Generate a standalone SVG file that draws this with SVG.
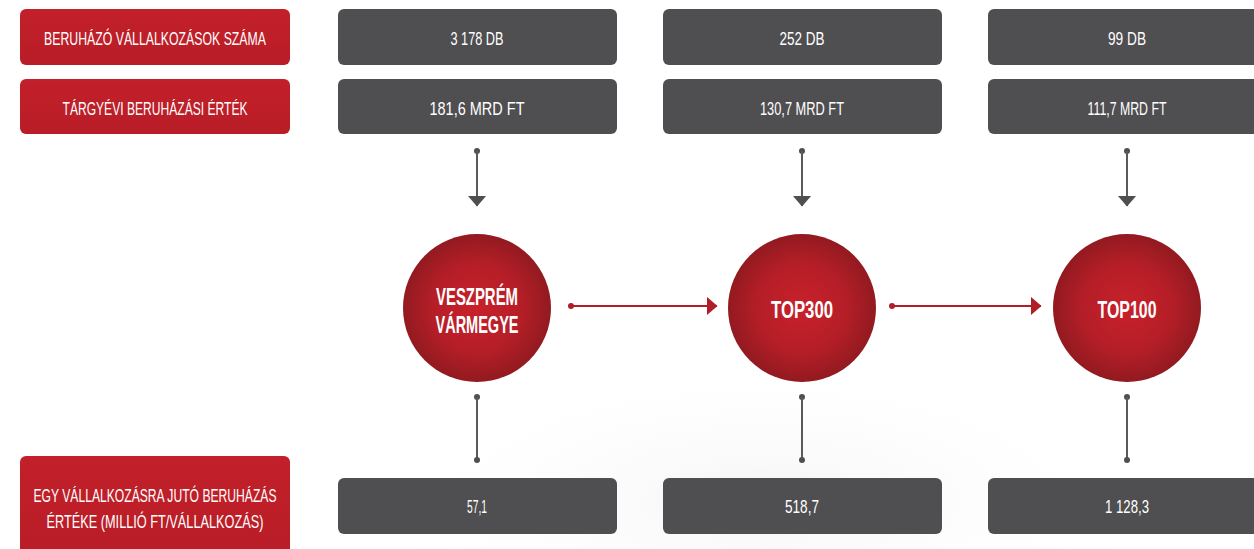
<svg xmlns="http://www.w3.org/2000/svg" width="1254" height="549" viewBox="0 0 1254 549">
<defs>
<linearGradient id="redBox" x1="0" y1="0" x2="0" y2="1">
<stop offset="0" stop-color="#c2202a"/>
<stop offset="1" stop-color="#b91d27"/>
</linearGradient>
<radialGradient id="redCircle" cx="0.5" cy="0.5" r="0.5">
<stop offset="0" stop-color="#c8212b"/>
<stop offset="0.6" stop-color="#b51e27"/>
<stop offset="1" stop-color="#921a20"/>
</radialGradient>
<radialGradient id="bgBlob" cx="0.5" cy="0.5" r="0.5">
<stop offset="0" stop-color="#f2f2f2" stop-opacity="0.8"/>
<stop offset="1" stop-color="#ffffff" stop-opacity="0"/>
</radialGradient>
<marker id="arrRed" viewBox="0 0 11 19" refX="10.5" refY="9.5" markerWidth="11" markerHeight="19" markerUnits="userSpaceOnUse" orient="auto">
<path d="M0,0 L11,9.5 L0,19 Z" fill="#b01e28"/>
</marker>
<marker id="arrDown" viewBox="0 0 19 11" refX="9.5" refY="10.5" markerWidth="19" markerHeight="11" markerUnits="userSpaceOnUse" orient="0">
<path d="M0,0 L19,0 L9.5,11 Z" fill="#4f4e50"/>
</marker>
</defs>
<style>
.rb{fill:url(#redBox)}
.db{fill:#4f4e50}
.circ{fill:url(#redCircle)}
.t{font-family:"Liberation Sans",Arial,sans-serif;font-size:19px;fill:#ffffff;text-anchor:middle}
.tc{font-family:"Liberation Sans",Arial,sans-serif;font-size:24px;font-weight:bold;fill:#ffffff;text-anchor:middle}
.cg{stroke:#5a5a5c;stroke-width:2;fill:none}
.cr{stroke:#b01e28;stroke-width:2;fill:none}
.dg{fill:#4f4e50}
.dr{fill:#b01e28}
</style>
<rect width="1254" height="549" fill="#ffffff"/>
<ellipse cx="760" cy="500" rx="380" ry="140" fill="url(#bgBlob)"/>

<g id="label-count">
<rect class="rb" x="20" y="9" width="270" height="56" rx="6"/>
<text class="t" x="155" y="45" textLength="222" lengthAdjust="spacingAndGlyphs">BERUHÁZÓ VÁLLALKOZÁSOK SZÁMA</text>
</g>
<g id="label-value">
<rect class="rb" x="20" y="79" width="270" height="55" rx="6"/>
<text class="t" x="155" y="115" textLength="185" lengthAdjust="spacingAndGlyphs">TÁRGYÉVI BERUHÁZÁSI ÉRTÉK</text>
</g>
<g id="label-per">
<rect class="rb" x="20" y="456" width="270" height="100" rx="6"/>
<text class="t" x="155" y="502" textLength="243" lengthAdjust="spacingAndGlyphs">EGY VÁLLALKOZÁSRA JUTÓ BERUHÁZÁS</text>
<text class="t" x="155" y="528" textLength="217" lengthAdjust="spacingAndGlyphs">ÉRTÉKE (MILLIÓ FT/VÁLLALKOZÁS)</text>
</g>

<g id="c1-count"><rect class="db" x="338" y="9" width="279" height="56" rx="6"/><text class="t" x="477" y="45" textLength="53" lengthAdjust="spacingAndGlyphs">3 178 DB</text></g>
<g id="c1-value"><rect class="db" x="338" y="79" width="279" height="55" rx="6"/><text class="t" x="477" y="115" textLength="95" lengthAdjust="spacingAndGlyphs">181,6 MRD FT</text></g>
<g id="c1-per"><rect class="db" x="338" y="478" width="279" height="56" rx="6"/><text class="t" x="477" y="513" textLength="20" lengthAdjust="spacingAndGlyphs">57,1</text></g>

<g id="c2-count"><rect class="db" x="663" y="9" width="279" height="56" rx="6"/><text class="t" x="802" y="45" textLength="45" lengthAdjust="spacingAndGlyphs">252 DB</text></g>
<g id="c2-value"><rect class="db" x="663" y="79" width="279" height="55" rx="6"/><text class="t" x="802" y="115" textLength="84" lengthAdjust="spacingAndGlyphs">130,7 MRD FT</text></g>
<g id="c2-per"><rect class="db" x="663" y="478" width="279" height="56" rx="6"/><text class="t" x="802" y="513" textLength="34" lengthAdjust="spacingAndGlyphs">518,7</text></g>

<g id="c3-count"><rect class="db" x="988" y="9" width="279" height="56" rx="6"/><text class="t" x="1127" y="45" textLength="38" lengthAdjust="spacingAndGlyphs">99 DB</text></g>
<g id="c3-value"><rect class="db" x="988" y="79" width="279" height="55" rx="6"/><text class="t" x="1127" y="115" textLength="79" lengthAdjust="spacingAndGlyphs">111,7 MRD FT</text></g>
<g id="c3-per"><rect class="db" x="988" y="478" width="279" height="56" rx="6"/><text class="t" x="1127" y="513" textLength="44" lengthAdjust="spacingAndGlyphs">1 128,3</text></g>

<g id="n-veszprem"><circle class="circ" cx="477" cy="308" r="74"/>
<text class="tc" x="477" y="305" textLength="82" lengthAdjust="spacingAndGlyphs">VESZPRÉM</text>
<text class="tc" x="477" y="333" textLength="83" lengthAdjust="spacingAndGlyphs">VÁRMEGYE</text></g>
<g id="n-top300"><circle class="circ" cx="802" cy="308" r="74"/>
<text class="tc" x="802" y="318" textLength="62" lengthAdjust="spacingAndGlyphs">TOP300</text></g>
<g id="n-top100"><circle class="circ" cx="1127" cy="308" r="74"/>
<text class="tc" x="1127" y="318" textLength="59" lengthAdjust="spacingAndGlyphs">TOP100</text></g>

<g id="connectors">
<circle class="dg" cx="477" cy="151" r="3"/><line class="cg" x1="477" y1="151" x2="477" y2="206" marker-end="url(#arrDown)"/>
<circle class="dg" cx="802" cy="151" r="3"/><line class="cg" x1="802" y1="151" x2="802" y2="206" marker-end="url(#arrDown)"/>
<circle class="dg" cx="1127" cy="151" r="3"/><line class="cg" x1="1127" y1="151" x2="1127" y2="206" marker-end="url(#arrDown)"/>

<circle class="dr" cx="571" cy="306" r="3"/><line class="cr" x1="571" y1="306" x2="717" y2="306" marker-end="url(#arrRed)"/>
<circle class="dr" cx="892" cy="306" r="3"/><line class="cr" x1="892" y1="306" x2="1041" y2="306" marker-end="url(#arrRed)"/>

<circle class="dg" cx="477" cy="397" r="3"/><line class="cg" x1="477" y1="397" x2="477" y2="460"/><circle class="dg" cx="477" cy="460" r="3"/>
<circle class="dg" cx="802" cy="397" r="3"/><line class="cg" x1="802" y1="397" x2="802" y2="460"/><circle class="dg" cx="802" cy="460" r="3"/>
<circle class="dg" cx="1127" cy="397" r="3"/><line class="cg" x1="1127" y1="397" x2="1127" y2="460"/><circle class="dg" cx="1127" cy="460" r="3"/>
</g>
</svg>
